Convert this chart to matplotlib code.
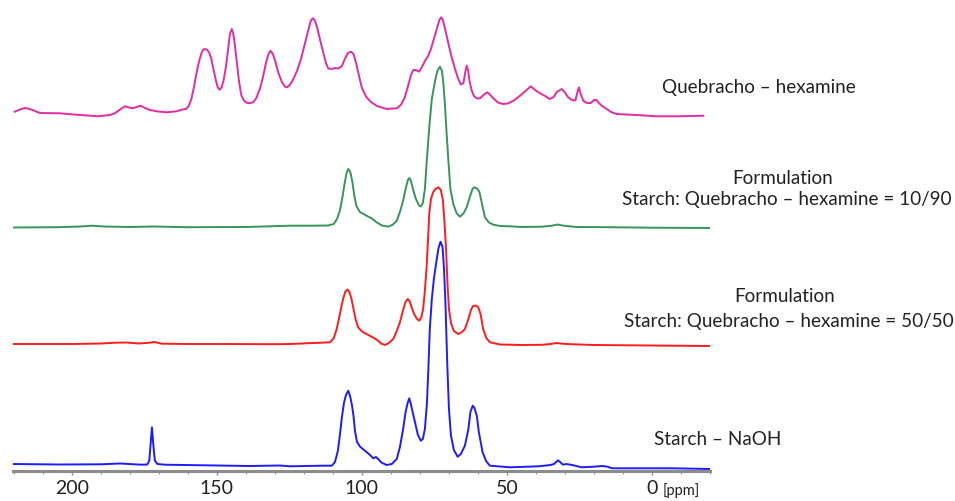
import numpy as np
import matplotlib.pyplot as plt

plt.rcParams['font.family'] = ['Lato', 'DejaVu Sans']

# chemical shift (ppm) and intensity above each trace's own baseline
ppm_qh = [219.7, 217.9, 216.2, 214.5, 211.0, 204.1, 197.2, 191.0, 186.9, 185.2,
          183.1, 181.7, 180.3, 179.0, 177.6, 176.3, 174.8, 173.1, 170.3, 167.3,
          163.9, 162.2, 160.7, 159.7, 158.8, 157.9, 157.1, 156.2, 155.3, 154.7,
          154.0, 153.3, 152.6, 151.9, 151.2, 150.3, 149.7, 149.0, 148.3, 147.6,
          146.9, 146.2, 145.5, 144.9, 144.4, 143.8, 143.1, 142.4, 141.6, 140.7,
          139.7, 138.6, 137.4, 136.4, 135.2, 134.1, 133.1, 132.2, 131.5, 130.7,
          129.8, 128.8, 127.6, 126.6, 125.9, 125.0, 123.8, 122.4, 121.0, 119.7,
          118.4, 117.6, 116.9, 116.2, 115.3, 114.5, 113.4, 112.4, 111.6, 110.5,
          109.3, 108.1, 106.9, 105.9, 104.8, 103.8, 102.9, 102.1, 101.0, 100.0,
          98.6, 96.9, 94.8, 91.5, 88.0, 86.6, 85.3, 84.1, 83.1, 82.3,
          81.4, 80.3, 79.3, 78.3, 77.2, 76.2, 75.2, 74.1, 73.3, 72.7,
          72.1, 71.4, 70.7, 70.0, 69.0, 67.9, 66.9, 65.9, 65.0, 64.3,
          63.9, 63.4, 62.9, 62.2, 61.4, 60.3, 59.3, 57.9, 56.8, 55.9,
          54.7, 53.1, 51.4, 49.7, 47.6, 45.5, 43.6, 41.8, 40.3, 38.6,
          36.9, 35.2, 33.9, 32.8, 31.1, 30.0, 29.0, 27.6, 26.4, 25.7,
          25.2, 24.7, 23.7, 22.4, 21.1, 20.0, 19.1, 18.3, 17.4, 15.6,
          14.1, 12.2, 9.0, 5.3, -1.6, -8.5, -17.7]
int_qh = [4.3, 6.5, 8, 7, 3, 2.7, 1, -0.3, 1, 2.7,
          7, 9.7, 8.5, 7.7, 9, 10.3, 8, 6, 4.5, 3.7,
          4.7, 6.3, 7, 10, 17, 29, 42, 54, 63, 66.5,
          67, 66, 63, 57, 47, 35, 28.5, 26.3, 29, 37,
          49, 65, 82, 87, 83, 71, 53, 35, 21, 15.5,
          13.2, 12.7, 14, 18, 27, 39, 53, 62, 65.3, 62,
          54, 43, 34, 29.5, 28.7, 30.5, 36, 45, 57, 72,
          87, 95.5, 97.7, 95.5, 87, 77, 64, 53, 47.5, 47,
          48, 47.5, 50, 57, 63, 64.3, 62, 54, 40, 28,
          19.5, 14, 10, 7, 7.7, 11, 18, 30, 41, 46,
          46, 44.3, 49, 55, 60, 67, 77, 88, 96, 98.7,
          96, 88, 79, 70, 58, 47, 38, 31.5, 33, 45,
          50.3, 46, 35, 26, 20, 17.5, 17.7, 21.5, 23.7, 21.5,
          17.7, 13.5, 12, 12.5, 15.5, 20.3, 25, 29.7, 26, 22.7,
          20, 17, 19, 24, 27, 23.5, 19, 16, 15.5, 24,
          28.7, 23, 15.3, 13, 13, 16, 16, 13, 10.5, 7,
          4, 2, 1.5, 1, -0.3, -0.3, 0.3]

ppm_f10 = [220.3, 205.0, 197.0, 193.0, 189.0, 180.0, 172.0, 160.0, 140.0, 124.8,
           117.9, 111.7, 109.7, 108.6, 107.6, 106.7, 106.0, 105.3, 104.7, 104.0,
           103.3, 102.6, 101.9, 100.7, 98.4, 96.6, 94.9, 93.1, 90.9, 89.3,
           88.0, 86.9, 85.8, 84.8, 84.1, 83.6, 83.1, 82.4, 81.4, 80.3,
           79.7, 79.0, 78.3, 77.6, 76.7, 75.9, 74.8, 74.0, 73.1, 72.4,
           71.9, 71.4, 70.9, 70.2, 69.5, 68.5, 67.4, 66.2, 65.0, 63.9,
           62.8, 61.9, 61.3, 60.3, 59.5, 58.6, 57.6, 56.2, 54.7, 52.4,
           49.0, 45.0, 38.0, 34.5, 32.5, 30.5, 26.0, 15.0, 0.0, -20.0]
int_f10 = [0, 0.3, 1, 1.8, 1, 0.5, 1, 0.3, 0.5, 1.8,
           1.8, 2, 3.5, 8.5, 16.8, 30.5, 43.5, 54.5, 58.5, 55.5,
           45.5, 31.5, 21.5, 15.5, 11.8, 9, 5.2, 2, 0.8, 3,
           6.8, 15.5, 26.8, 40.5, 48, 49.5, 46.5, 38.5, 28.5, 22,
           21, 24.5, 38.5, 68.5, 103.5, 128.5, 146.5, 156.5, 160.8, 156.5,
           143.5, 123.5, 98.5, 66.8, 38.5, 23.5, 14.5, 10.8, 14, 20.2,
           30.5, 38.5, 40.2, 39, 35.5, 23.5, 10.2, 5, 2.8, 1.5,
           1.2, 0.5, 0.8, 1.8, 3, 1.8, 0.5, 0.3, -0.2, -0.5]

ppm_f50 = [220.3, 200.0, 190.0, 185.0, 181.0, 177.0, 173.0, 171.5, 169.0, 160.0,
           150.0, 130.0, 124.8, 111.0, 109.7, 108.7, 107.8, 107.1, 106.4, 105.7,
           105.0, 104.3, 103.6, 102.9, 102.2, 101.3, 100.0, 97.8, 96.2, 94.7,
           93.4, 92.1, 90.7, 89.2, 88.0, 86.9, 85.9, 85.0, 84.2, 83.6,
           82.9, 82.1, 81.0, 80.2, 79.5, 78.9, 78.3, 77.7, 77.2, 76.8,
           76.2, 75.5, 74.7, 73.6, 72.8, 72.1, 71.6, 71.0, 70.5, 70.0,
           69.3, 68.3, 66.8, 65.5, 64.5, 63.3, 62.4, 61.7, 60.7, 59.9,
           59.1, 58.2, 57.1, 55.9, 52.4, 49.0, 45.0, 38.0, 35.0, 33.0,
           31.0, 28.0, 20.0, 0.0, -20.0]
int_f50 = [0.5, 0.5, 1, 1.8, 2, 1, 1.8, 2.5, 0.8, 0.5,
           0.5, 0.3, 0.5, 2.2, 6.5, 15.5, 27.5, 37.5, 46.5, 53,
           55, 52.5, 45.5, 35.5, 25.5, 17.2, 13, 9.5, 7, 4.5,
           1, -0.5, 1.5, 5.5, 13.5, 22.2, 33.5, 42.5, 45.5, 43.5,
           37.5, 31, 25.5, 23.8, 27.5, 35.5, 53.5, 77.5, 105.5, 130.5,
           145.5, 152, 155.5, 157.2, 154.5, 144.5, 125.5, 95.5, 60.5, 35.5,
           21.5, 13.5, 10.5, 12.5, 15.5, 25.5, 34.5, 38.5, 39, 37.2,
           30.5, 15.5, 6.5, 2.2, 0, -0.2, -0.5, -0.3, 0.5, 1.5,
           0.8, 0.3, -0.5, -1, -1.5]

ppm_naoh = [220.3, 204.1, 190.0, 183.4, 176.0, 174.0, 173.3, 172.9, 172.4, 171.9,
            171.4, 170.5, 168.0, 161.0, 150.0, 138.6, 128.3, 124.8, 114.0, 110.4,
            109.3, 108.3, 107.6, 106.9, 106.2, 105.5, 104.7, 104.0, 103.4, 102.9,
            102.4, 101.7, 100.7, 99.0, 97.2, 96.1, 95.2, 94.4, 93.3, 91.5,
            89.7, 88.0, 86.9, 85.8, 85.0, 84.3, 83.7, 83.1, 82.4, 81.7,
            80.7, 79.7, 79.0, 78.3, 77.6, 77.1, 76.6, 75.9, 75.2, 74.3,
            73.6, 72.9, 72.2, 71.7, 71.2, 70.6, 70.0, 69.3, 68.3, 67.0,
            65.9, 64.5, 63.3, 62.6, 61.8, 61.2, 60.4, 59.7, 58.4, 57.2,
            55.9, 52.4, 49.0, 39.1, 35.0, 33.8, 32.4, 31.5, 30.7, 29.5,
            27.5, 24.3, 20.0, 17.0, 15.3, 13.8, -7.2, -20.0]
int_naoh = [1.5, 1, 1.2, 2, 0.8, 1, 5, 20, 38.2, 20,
            5, 1.5, 0.8, 0.5, 0, -0.5, 0, -0.8, -0.2, -0.2,
            3.5, 14.5, 30.5, 48.5, 62.5, 70.5, 74.8, 68.5, 59.5, 49.5,
            34.5, 23.5, 19, 14.8, 10.5, 7.2, 8.5, 6.5, 3, 0.5,
            1.5, 6.5, 18.5, 36.5, 52.5, 62, 67.2, 61, 52, 43.2,
            30.5, 24.8, 26.5, 36.5, 61.5, 96.5, 136.5, 166.5, 186.5, 204.5,
            217.5, 223.8, 218.5, 196.5, 161.5, 103.2, 56.5, 29.8, 15.5, 8.8,
            11.5, 19.8, 36.5, 53.5, 59.8, 57.5, 49.8, 33.5, 13.2, 4.5,
            -0.2, -1, -1.8, -0.8, 0.5, 1.5, 5.2, 3, 0.8, 1.5,
            0.5, -1.8, -1.2, -0.5, -1.2, -2.8, -2.8, -3.5]

tick_vals = [200, 150, 100, 50, 0]

fig = plt.figure(figsize=(9.55, 5.02), dpi=100)
ax = fig.add_axes([13 / 955, 30 / 502, 697 / 955, 472 / 502])

ax.plot(ppm_qh, np.array(int_qh) + 355, color='#e22ba4', lw=1.4)
ax.plot(ppm_f10, np.array(int_f10) + 243.5, color='#3a9459', lw=1.4)
ax.plot(ppm_f50, np.array(int_f50) + 126.5, color='#ff1c1c', lw=1.4)
ax.plot(ppm_naoh, np.array(int_naoh) + 5.5, color='#1c1cff', lw=1.4)

ax.set_xlim(220.3, -20)
ax.set_ylim(0, 472)
for s in ['top', 'left', 'right']:
    ax.spines[s].set_visible(False)
ax.spines['bottom'].set_color('#8c8c8c')
ax.spines['bottom'].set_linewidth(2.2)
ax.set_yticks([])
ax.set_xticks(tick_vals)
ax.set_xticklabels([str(v) for v in tick_vals])
ax.set_xticks(np.arange(-20, 221, 10), minor=True)
ax.tick_params(axis='x', which='major', length=3, width=1, color='#8c8c8c',
               labelsize=14, pad=3, labelcolor='#222222')
ax.tick_params(axis='x', which='minor', length=2, width=0.8, color='#8c8c8c')

fig.text(663 / 955, 1 - 491 / 502, '[ppm]', fontsize=10.5, color='#222222',
         ha='left', va='center')

txt = dict(ha='center', va='center', color='#222222', fontsize=13.6)
fig.text(759 / 955, 1 - 88 / 502, 'Quebracho – hexamine', **txt)
fig.text(783 / 955, 1 - 178 / 502, 'Formulation', **txt)
fig.text(787 / 955, 1 - 200 / 502, 'Starch: Quebracho – hexamine = 10/90', **txt)
fig.text(785 / 955, 1 - 296 / 502, 'Formulation', **txt)
fig.text(789 / 955, 1 - 322 / 502, 'Starch: Quebracho – hexamine = 50/50', **txt)
fig.text(718 / 955, 1 - 440 / 502, 'Starch – NaOH', **txt)

fig.savefig('out.png', dpi=100)
